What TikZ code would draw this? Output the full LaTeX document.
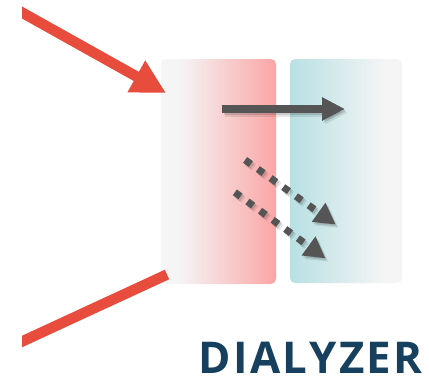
\documentclass[tikz,border=0pt]{standalone}
\usepackage{fontspec}
\newfontfamily\labelfont{Open Sans}[UprightFont=* Bold]
\usetikzlibrary{arrows.meta}
\definecolor{redarrow}{HTML}{E84C3D}
\definecolor{darkarrow}{HTML}{555555}
\definecolor{navy}{HTML}{17405F}
\definecolor{lgray}{HTML}{F5F5F5}
\definecolor{pinkr}{HTML}{FBA5A5}
\definecolor{tealr}{HTML}{B8E0E3}
\pgfdeclarehorizontalshading{leftboxshade}{100bp}{color(0bp)=(lgray); color(33bp)=(lgray); color(75bp)=(pinkr); color(100bp)=(pinkr)}
\pgfdeclarehorizontalshading{rightboxshade}{100bp}{color(0bp)=(tealr); color(25bp)=(tealr); color(68bp)=(lgray); color(100bp)=(lgray)}
\newcommand{\lsp}{\kern2.2pt}
\begin{document}
\begin{tikzpicture}[x=1pt,y=-1pt,
  panel/.style={rectangle, rounded corners=5pt, inner sep=0pt, draw=none},
  redline/.style={draw=redarrow, line width=10.5pt},
  solidarrow/.style={draw=darkarrow, line width=8pt, -{Triangle[length=23pt,width=22pt]}},
  dotarrow/.style={draw=darkarrow, line width=7pt, dash pattern=on 7pt off 8.6pt, -{Triangle[length=21pt,width=22pt]}},
  shadowa/.style={draw=black, opacity=0.09, transform canvas={shift={(3pt,-3.5pt)}}},
  shadowb/.style={draw=black, opacity=0.12, transform canvas={shift={(1.5pt,-2pt)}}}
]
\useasboundingbox (0,0) rectangle (429,381);
% panels
\node[panel, shading=leftboxshade, minimum width=115pt, minimum height=225pt] (blood) at (218.5,171.5) {};
\node[panel, shading=rightboxshade, minimum width=112pt, minimum height=224pt] (dialysate) at (346,171) {};
% red lines
\coordinate (inA) at (0,0.2);
\coordinate (inTip) at (166,93);
\coordinate (outA) at (167,274.5);
\coordinate (outB) at (0,351.7);
\begin{scope}
\clip (22,0) rectangle (429,381);
\draw[redline, -{Triangle[length=34pt,width=34pt]}] (inA) -- (inTip);
\draw[redline] (outA) -- (outB);
\end{scope}
% transport arrows
\coordinate (s1) at (222,109);
\coordinate (t1) at (345,109);
\coordinate (s2) at (245.15,159.96);
\coordinate (t2) at (335.7,224.5);
\coordinate (s3) at (234.85,192.3);
\coordinate (t3) at (325.5,258.3);
\foreach \sh in {shadowa,shadowb}{
  \draw[solidarrow, \sh] (s1) -- (t1);
  \draw[dotarrow, \sh] (s2) -- (t2);
  \draw[dotarrow, \sh] (s3) -- (t3);
}
\draw[solidarrow] (s1) -- (t1);
\draw[dotarrow] (s2) -- (t2);
\draw[dotarrow] (s3) -- (t3);
% title
\node[anchor=base east, inner sep=0pt, font=\labelfont\fontsize{43.8}{44}\selectfont, text=navy] (title) at (422.5,373.3) {D\lsp I\lsp A\lsp L\lsp Y\lsp Z\lsp E\lsp R};
\end{tikzpicture}
\end{document}
